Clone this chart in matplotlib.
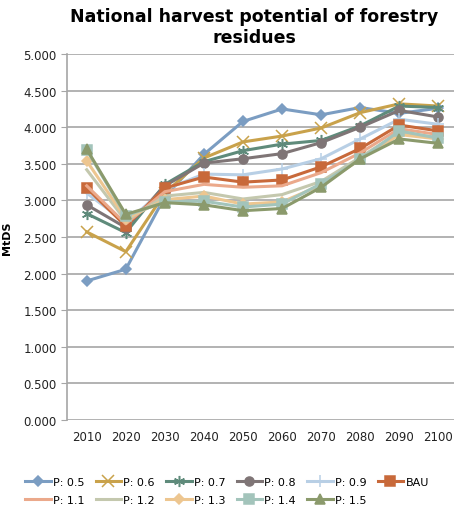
import numpy as np
import matplotlib
matplotlib.use('Agg')
import matplotlib.pyplot as plt

# Harvest potential per scenario, MtDS per decade
years = ['2010', '2020', '2030', '2040', '2050', '2060', '2070', '2080', '2090', '2100']

p05 = [1.90, 2.06, 3.05, 3.63, 4.08, 4.25, 4.17, 4.27, 4.19, 4.26]
p06 = [2.57, 2.30, 3.10, 3.58, 3.80, 3.88, 3.99, 4.20, 4.32, 4.29]
p07 = [2.82, 2.56, 3.22, 3.53, 3.68, 3.77, 3.82, 4.02, 4.29, 4.27]
p08 = [2.94, 2.63, 3.20, 3.51, 3.57, 3.64, 3.79, 4.00, 4.23, 4.14]
p09 = [3.10, 2.70, 3.15, 3.36, 3.35, 3.43, 3.57, 3.84, 4.11, 4.04]
bau = [3.17, 2.65, 3.17, 3.32, 3.25, 3.28, 3.46, 3.71, 4.03, 3.95]
p11 = [3.20, 2.68, 3.12, 3.22, 3.18, 3.20, 3.38, 3.65, 3.98, 3.90]
p12 = [3.42, 2.72, 3.06, 3.11, 3.02, 3.08, 3.26, 3.59, 3.93, 3.86]
p13 = [3.54, 2.75, 3.01, 3.06, 2.95, 2.98, 3.21, 3.56, 3.90, 3.84]
p14 = [3.69, 2.79, 2.98, 2.99, 2.91, 2.95, 3.23, 3.56, 3.95, 3.85]
p15 = [3.70, 2.81, 2.97, 2.94, 2.86, 2.89, 3.18, 3.57, 3.84, 3.78]

labels = ['P: 0.5', 'P: 0.6', 'P: 0.7', 'P: 0.8', 'P: 0.9', 'BAU',
          'P: 1.1', 'P: 1.2', 'P: 1.3', 'P: 1.4', 'P: 1.5']
series = [p05, p06, p07, p08, p09, bau, p11, p12, p13, p14, p15]
colors = ['#7b9dc2', '#c9a24b', '#5f8b7b', '#7f7576', '#b8cfe5', '#c8693a',
          '#eba98b', '#c4c8ae', '#edc690', '#a3c4bb', '#8b9a6c']
markers = ['D', 'x', (6, 2, 0), 'o', '+', 's', None, None, 'D', 's', '^']
msizes = [5, 8, 8, 6.5, 8, 6.5, 6, 6, 5, 6.5, 6.5]

fig = plt.figure(figsize=(4.54, 5.10), dpi=100)
ax = fig.add_axes([0.148, 0.1745, 0.852, 0.7175])

x = np.arange(len(years))
handles = []
for vals, lab, col, mk, ms in zip(series, labels, colors, markers, msizes):
    h, = ax.plot(x, vals, color=col, lw=2.2, marker=mk, ms=ms,
                 mew=1.1, label=lab, zorder=3)
    handles.append(h)

ax.set_xlim(-0.5, 9.4)
ax.set_ylim(0, 5)
ax.set_xticks(x)
ax.set_xticklabels(years)
ax.set_yticks(np.arange(0, 5.01, 0.5))
ax.set_yticklabels(['%.3f' % v for v in np.arange(0, 5.01, 0.5)])
ax.tick_params(axis='x', length=0, labelsize=8.5, pad=7, colors='#222222')
ax.tick_params(axis='y', length=4, color='#a6a6a6', labelsize=8.5, colors='#222222')
ax.yaxis.grid(True, color='#a6a6a6', lw=1.2)
ax.set_axisbelow(True)
for s in ['top', 'right', 'bottom']:
    ax.spines[s].set_visible(False)
ax.spines['left'].set_color('#a6a6a6')
ax.spines['left'].set_linewidth(1.2)

ax.set_ylabel('MtDS', fontsize=8, fontweight='bold', labelpad=8)
fig.suptitle('National harvest potential of forestry\nresidues', fontsize=12.5,
             fontweight='bold', y=0.985, x=0.56, linespacing=1.25)

# reorder so entries fill row by row
order = [0, 6, 1, 7, 2, 8, 3, 9, 4, 10, 5]
fig.legend([handles[i] for i in order], [labels[i] for i in order],
           ncol=6, loc='lower center', bbox_to_anchor=(0.5, -0.012),
           frameon=False, fontsize=8, handlelength=2.3, columnspacing=1.0,
           handletextpad=0.2, labelspacing=0.75)

fig.savefig('out.png', dpi=100)
